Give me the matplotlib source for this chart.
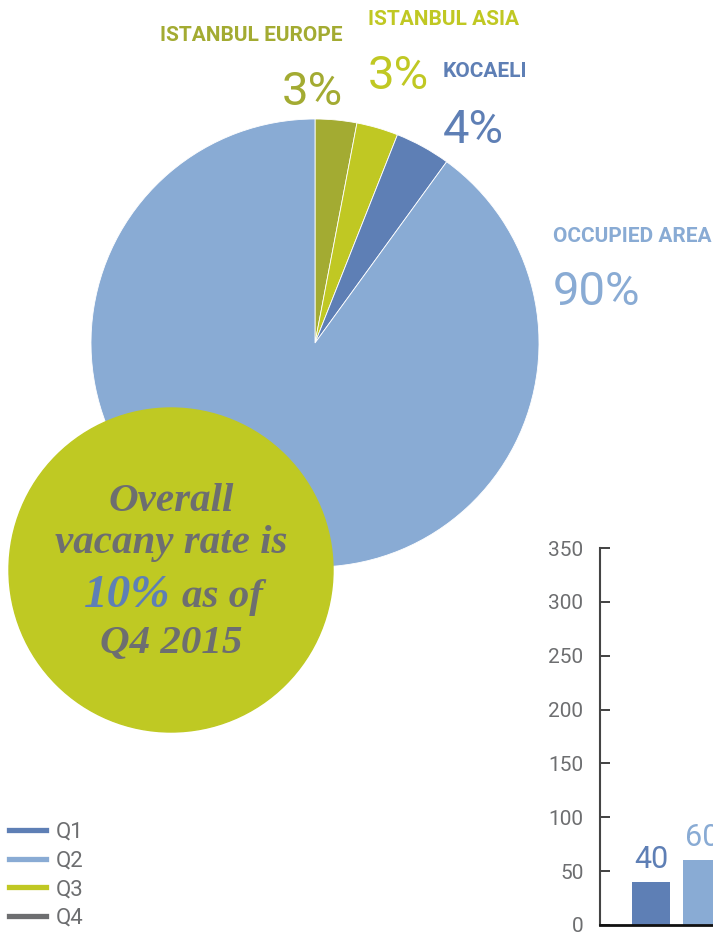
import matplotlib
matplotlib.use("Agg")
import matplotlib.pyplot as plt
from matplotlib.patches import Circle
from matplotlib.lines import Line2D

W, H = 713, 933
DPI = 100

# Vacancy breakdown (share of total stock, %)
segments = ["ISTANBUL EUROPE", "ISTANBUL ASIA", "KOCAELI", "OCCUPIED AREA"]
shares = [3, 3, 4, 90]
segment_colors = ["#a3ab32", "#c0c823", "#5e7fb5", "#89abd4"]

# Quarterly bars
quarters = ["Q1", "Q2", "Q3", "Q4"]
quarter_colors = ["#5e7fb5", "#89abd4", "#c0c823", "#6d6e70"]
bar_quarters = ["Q1", "Q2"]
bar_values = [40, 60]
y_ticks = [0, 50, 100, 150, 200, 250, 300, 350]

GRAY = "#6d6e70"
plt.rcParams["font.family"] = ["Roboto", "DejaVu Sans"]

fig = plt.figure(figsize=(W / DPI, H / DPI), dpi=DPI)


def frac_box(x0, top, w, h):
    """Pixel box (left, top, width, height) -> figure-fraction rect."""
    return [x0 / W, 1 - (top + h) / H, w / W, h / H]


# ---- pie -------------------------------------------------------------
cx, cy, r = 315, 343, 224
ax_pie = fig.add_axes(frac_box(cx - r, cy - r, 2 * r, 2 * r), zorder=1)
ax_pie.pie(shares, colors=segment_colors, startangle=90, counterclock=False,
           wedgeprops=dict(edgecolor="white", linewidth=0.6))
ax_pie.set_xlim(-1, 1)
ax_pie.set_ylim(-1, 1)
ax_pie.set_aspect("equal")
ax_pie.axis("off")

# ---- overlay in pixel coordinates -----------------------------------
ov = fig.add_axes([0, 0, 1, 1], zorder=2)
ov.set_xlim(0, W)
ov.set_ylim(H, 0)
ov.axis("off")
ov.patch.set_alpha(0)

# segment captions: (name position, value position, alignment)
caption_layout = [
    ((343, 41), (343, 105), "right"),
    ((368, 25), (368, 89), "left"),
    ((443, 77), (443, 143), "left"),
    ((553, 242), (553, 305), "left"),
]
for name, val, col, (npos, vpos, ha) in zip(segments, shares, segment_colors,
                                            caption_layout):
    ov.text(*npos, name, color=col, fontsize=15, fontweight="bold",
            ha=ha, va="baseline")
    ov.text(*vpos, f"{val}%", color=col, fontsize=34, ha=ha, va="baseline")

# highlight bubble
ov.add_patch(Circle((171, 570), 162, color="#bfc923", zorder=3))
serif = dict(family=["Liberation Serif", "DejaVu Serif"], fontweight="bold",
             style="italic", va="baseline", zorder=4)
ov.text(171, 511, "Overall", color=GRAY, fontsize=29.5, ha="center", **serif)
ov.text(171, 553, "vacany rate is", color=GRAY, fontsize=29.5, ha="center",
        **serif)
ov.text(171, 607, f"{100 - shares[-1]}%", color="#5e7fb5", fontsize=34,
        ha="right", **serif)
ov.text(182, 607, "as of", color=GRAY, fontsize=29.5, ha="left", **serif)
ov.text(171, 653, "Q4 2015", color=GRAY, fontsize=29.5, ha="center", **serif)

# legend
handles = [Line2D([], [], color=c, lw=3.8) for c in quarter_colors]
fig.legend(handles, quarters, loc="lower left",
           bbox_to_anchor=(9 / W, 1 - 929 / H), frameon=False,
           fontsize=16, handlelength=1.67, handletextpad=0.45,
           labelspacing=0.35, borderpad=0, borderaxespad=0,
           labelcolor=GRAY)

# ---- bar chart (runs past the right edge) -----------------------------
ax_bar = fig.add_axes(frac_box(600, 548, 510, 377), zorder=3)
ax_bar.patch.set_alpha(0)
xpos = [1, 2]
bars = ax_bar.bar(xpos, bar_values, width=0.75,
                  color=[quarter_colors[quarters.index(q)] for q in bar_quarters])
for b, v, q in zip(bars, bar_values, bar_quarters):
    ax_bar.text(b.get_x() + b.get_width() / 2, v + 13, f"{v}",
                color=quarter_colors[quarters.index(q)], fontsize=22,
                ha="center", va="baseline")
ax_bar.set_xlim(0, 10)
ax_bar.set_ylim(0, 350)
ax_bar.set_yticks(y_ticks)
ax_bar.tick_params(axis="y", direction="in", length=7, width=1.3,
                   color="#333333", labelsize=15, labelcolor=GRAY, pad=12)
ax_bar.tick_params(axis="x", length=0, labelbottom=False)
for s in ("top", "right"):
    ax_bar.spines[s].set_visible(False)
ax_bar.spines["left"].set_color("#444444")
ax_bar.spines["left"].set_linewidth(1.5)
ax_bar.spines["bottom"].set_color("#111111")
ax_bar.spines["bottom"].set_linewidth(2)

fig.savefig("out.png", dpi=DPI)
